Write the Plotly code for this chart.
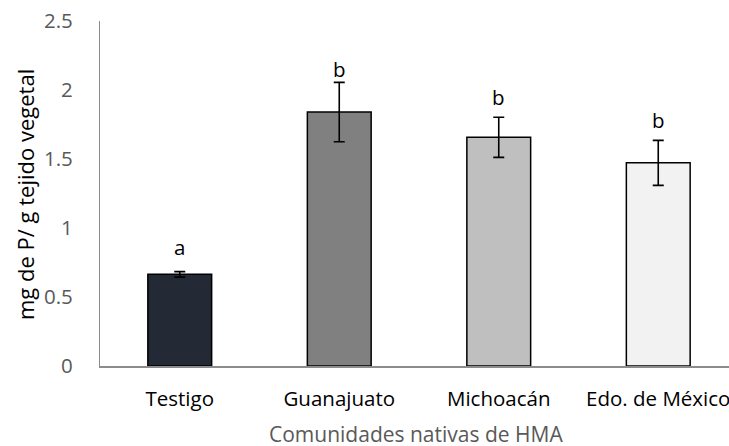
import plotly.graph_objects as go

# Phosphorus content per treatment (mg P / g plant tissue)
categories = ["Testigo", "Guanajuato", "Michoacán", "Edo. de México"]
means = [0.664, 1.840, 1.657, 1.472]
errors = [0.020, 0.215, 0.145, 0.163]
letters = ["a", "b", "b", "b"]
bar_colors = ["#232a35", "#808080", "#bfbfbf", "#f2f2f2"]

y_ticks = [0, 0.5, 1, 1.5, 2, 2.5]
y_tick_text = ["0", "0.5", "1", "1.5", "2", "2.5"]

# vertical lift (px) of each significance letter above its error bar
letter_lift = [15, 3.5, 10.5, 10.5]

W, H = 729, 446
left, top, bottom = 100, 21, 80
plot_w = W - left
plot_h = H - top - bottom
cat_px = 159.5

FONT = "'Open Sans', sans-serif"

fig = go.Figure()
fig.add_trace(go.Bar(
    x=list(range(len(categories))),
    y=means,
    width=0.4,
    marker=dict(color=bar_colors, line=dict(color="#000000", width=1.5)),
    error_y=dict(type="data", array=errors, visible=True,
                 color="#000000", thickness=1.6, width=5.5),
    hoverinfo="skip",
))

# significance letters above the error bars
for i, (m, e, t, lift) in enumerate(zip(means, errors, letters, letter_lift)):
    fig.add_annotation(
        x=i, y=m + e, text=t, showarrow=False,
        yanchor="bottom", yshift=lift - 6,
        font=dict(family=FONT, size=20.5, color="#000000"),
    )

# axis titles
fig.add_annotation(
    xref="paper", yref="paper",
    x=(25 - left) / plot_w, y=(H - bottom - 195) / plot_h,
    text="mg de P/ g tejido vegetal", textangle=-90, showarrow=False,
    xanchor="center", yanchor="middle",
    font=dict(family=FONT, size=22, color="#000000"),
)
fig.add_annotation(
    xref="paper", yref="paper",
    x=(416 - left) / plot_w, y=-(434 - 366) / plot_h,
    text="Comunidades nativas de HMA", showarrow=False,
    xanchor="center", yanchor="middle",
    font=dict(family=FONT, size=21, color="#595959"),
)

fig.update_layout(
    width=W, height=H,
    margin=dict(l=left, r=0, t=top, b=bottom, autoexpand=False),
    paper_bgcolor="white", plot_bgcolor="white",
    showlegend=False,
    xaxis=dict(
        range=[-0.5, -0.5 + plot_w / cat_px],
        tickmode="array", tickvals=list(range(len(categories))), ticktext=categories,
        showgrid=False, zeroline=False,
        showline=True, linecolor="#8c8c8c", linewidth=1.6,
        ticks="", ticklabelstandoff=14, ticklabeloverflow="allow",
        tickfont=dict(family=FONT, size=20.5, color="#000000"),
        fixedrange=True,
    ),
    yaxis=dict(
        range=[0, 2.5],
        tickmode="array", tickvals=y_ticks, ticktext=y_tick_text,
        showgrid=False, zeroline=False,
        showline=True, linecolor="#8c8c8c", linewidth=1.2,
        ticks="", ticklabelstandoff=22,
        tickfont=dict(family=FONT, size=20.5, color="#595959"),
        fixedrange=True,
    ),
)

fig.write_html("out.html", config={"displayModeBar": False})
